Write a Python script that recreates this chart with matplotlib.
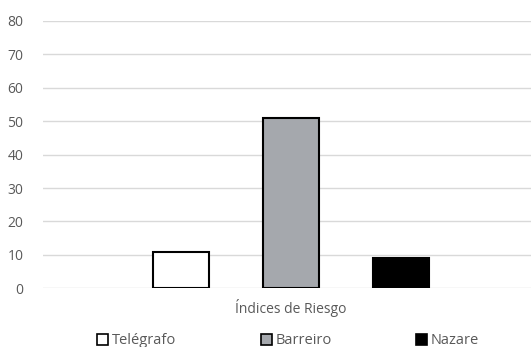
import matplotlib
matplotlib.use("Agg")
import matplotlib.pyplot as plt
import numpy as np

plt.rcParams['font.family'] = ['Open Sans', 'DejaVu Sans']

category = "Índices de Riesgo"
series = ["Telégrafo", "Barreiro", "Nazare"]
values = [11, 51, 9]
colors = ["#FFFFFF", "#A5A8AD", "#000000"]
edges = ["#000000", "#000000", "#000000"]

fig = plt.figure(figsize=(5.31, 3.47), dpi=100)
ax = fig.add_axes([43 / 531, 1 - 288.3 / 347, 1 - 43 / 531, (288.3 - 21) / 347])

pos = np.arange(len(series)) - 1
for i in range(len(series)):
    ax.bar(pos[i], values[i], width=0.51, color=colors[i], edgecolor=edges[i],
           linewidth=1.5, label=series[i], zorder=3)

ax.set_xlim(-2.2545, 2.1818)
ax.set_ylim(0, 80)
ax.set_yticks(range(0, 81, 10))
ax.set_xticks([0])
ax.set_xticklabels([category])
ax.grid(axis='y', color='#D9D9D9', linewidth=1.0, zorder=0)
for s in ax.spines.values():
    s.set_visible(False)
ax.tick_params(axis='both', length=0, colors='#595959', labelsize=10)
ax.tick_params(axis='y', pad=14)
ax.tick_params(axis='x', pad=8)

leg = ax.legend(loc='center', bbox_to_anchor=(0.5 + 1 / 488, -0.197), ncol=3,
                frameon=False, fontsize=10.5, handlelength=0.75, handleheight=0.75,
                handletextpad=0.25, columnspacing=5.8)
for t in leg.get_texts():
    t.set_color('#595959')
for h in leg.legend_handles:
    h.set_linewidth(1.2)

fig.savefig("out.png", dpi=100)
